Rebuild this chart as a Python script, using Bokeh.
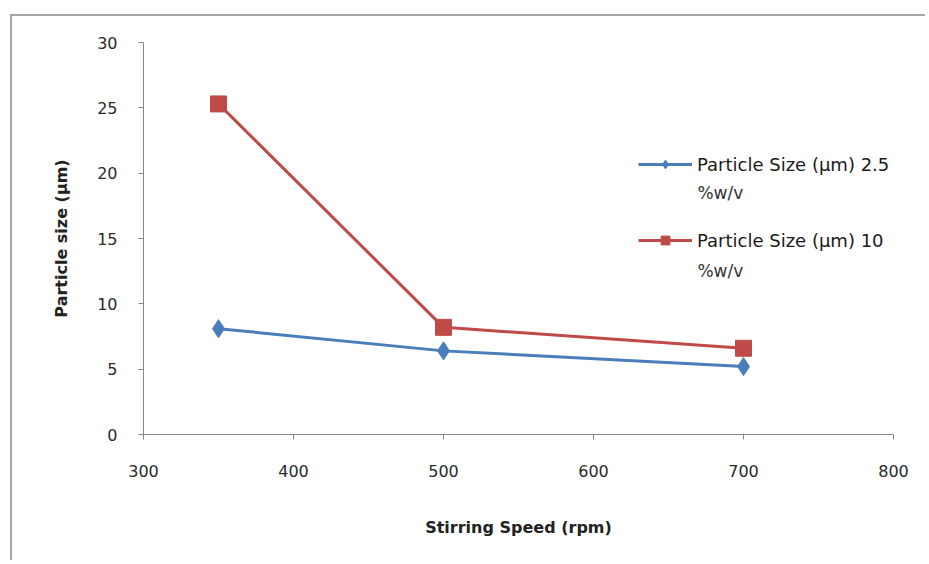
from bokeh.plotting import figure
from bokeh.models import Legend, LegendItem, Range1d, SingleIntervalTicker, Label
from bokeh.embed import file_html
from bokeh.resources import INLINE

speed = [350, 500, 700]
size_25 = [8.1, 6.4, 5.2]
size_10 = [25.3, 8.2, 6.6]
label_25 = "Particle Size (µm) 2.5"
label_10 = "Particle Size (µm) 10"
label_unit = "%w/v"
x_title = "Stirring Speed (rpm)"
y_title = "Particle size (µm)"

BLUE = "#4A7EBB"
RED = "#BE4B48"
AXIS = "#868686"
FONT = "DejaVu Sans"

p = figure(width=915, height=546, output_backend="svg", toolbar_location=None,
           x_range=Range1d(300, 800), y_range=Range1d(0, 30),
           min_border_left=131, min_border_right=34, min_border_top=26, min_border_bottom=128)
p.outline_line_color = None
p.xgrid.grid_line_color = None
p.ygrid.grid_line_color = None
p.background_fill_color = "white"
p.border_fill_color = "white"
p.styles = {"margin-left": "10px", "margin-top": "14px",
            "border-left": "2px solid #a6a6a6", "border-top": "2px solid #a6a6a6"}

l1 = p.line(speed, size_25, line_color=BLUE, line_width=3)
s1 = p.scatter(speed, size_25, marker="diamond", size=18, fill_color=BLUE, line_color=BLUE)
l2 = p.line(speed, size_10, line_color=RED, line_width=3)
s2 = p.scatter(speed, size_10, marker="square", size=16, fill_color=RED, line_color=RED)

for ax in (p.xaxis[0], p.yaxis[0]):
    ax.axis_line_color = AXIS
    ax.major_tick_line_color = AXIS
    ax.minor_tick_line_color = None
    ax.major_tick_in = 0
    ax.major_tick_out = 5
    ax.major_label_text_font = FONT
    ax.major_label_text_font_size = "16px"
    ax.major_label_text_color = "#2a2a2a"
    ax.axis_label_text_font = FONT
    ax.axis_label_text_font_size = "16px"
    ax.axis_label_text_font_style = "bold"
    ax.axis_label_text_color = "#222222"

p.xaxis.ticker = SingleIntervalTicker(interval=100)
p.yaxis.ticker = SingleIntervalTicker(interval=5)
p.xaxis.axis_label = x_title
p.yaxis.axis_label = y_title
p.xaxis.major_label_standoff = 25
p.yaxis.major_label_standoff = 21
p.xaxis.axis_label_standoff = 38
p.yaxis.axis_label_standoff = 23

legend = Legend(items=[LegendItem(label=label_25, renderers=[l1, s1]),
                       LegendItem(label=label_10, renderers=[l2, s2])],
                location=(495, 183), glyph_width=54, glyph_height=22, label_height=22,
                label_standoff=5, spacing=54, padding=0, margin=0,
                border_line_alpha=0, background_fill_alpha=0,
                label_text_font=FONT, label_text_font_size="18px",
                label_text_color="#1a1a1a")
p.add_layout(legend)

for yy in (18.5, 12.5):
    p.add_layout(Label(x=669.3, y=yy, text=label_unit, text_font=FONT,
                       text_font_size="17px", text_color="#333333",
                       text_baseline="middle", text_align="left"))

open("out.html", "w").write(file_html(p, INLINE))
